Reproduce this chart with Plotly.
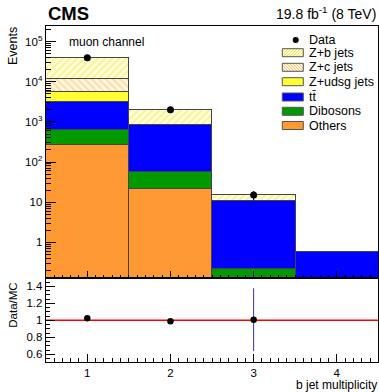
import plotly.graph_objects as go

W, H = 379, 392

# ---------------- data ----------------
bins = [1, 2, 3, 4]
others = [266, 20.9, 0, 0]
dibosons = [364, 36.6, 0.212, 0]
ttbar = [2563, 781, 10.5, 0.563]
z_udsg = [2287, 5, 0, 0]
z_c = [6080, 15, 0, 0]
z_b = [26990, 1180, 4.1, 0]

data_x = [1, 2, 3]
data_y = [39500, 2010, 15]
data_err = [199, 45, 3.9]

ratio_y = [1.024, 0.988, 1.007]
ratio_err = [0.012, 0.02, 0.37]

log_tickvals = [1, 10, 100, 1000, 10000, 100000]
log_ticktext = ["1", "10", "10<sup>2</sup>", "10<sup>3</sup>", "10<sup>4</sup>", "10<sup>5</sup>"]
ratio_tickvals = [0.6, 0.8, 1.0, 1.2, 1.4]
ratio_ticktext = ["0.6", "0.8", "1", "1.2", "1.4"]
x_tickvals = [1, 2, 3, 4]
x_ticktext = ["1", "2", "3", "4"]

FONT = "Liberation Sans, Arial, Helvetica, sans-serif"
OUTLINE = "#444444"

def px(x):
    return x / W

def py(y):
    return 1 - y / H

fig = go.Figure()

stack = [
    ("Others", others, "#ff9933", None),
    ("Dibosons", dibosons, "#009900", None),
    ("tt\u0304", ttbar, "#0000ff", None),
    ("Z+udsg jets", z_udsg, "#ffff33", None),
    ("Z+c jets", z_c, "#fff6dc", ("\\", "#f0c27a")),
    ("Z+b jets", z_b, "#ffffd2", ("/", "#f2e060")),
]
for name, vals, col, pat in stack:
    marker = dict(color=col, line=dict(color=OUTLINE, width=1))
    if pat:
        marker["pattern"] = dict(shape=pat[0], fgcolor=pat[1], size=5,
                                 solidity=0.35, fillmode="overlay")
    fig.add_trace(go.Bar(x=bins, y=vals, name=name, width=1, marker=marker,
                         xaxis="x", yaxis="y", showlegend=False))

fig.add_trace(go.Scatter(x=data_x, y=data_y, mode="markers", name="Data",
                         marker=dict(color="black", size=7),
                         error_y=dict(type="data", array=data_err, color="black",
                                      thickness=1, width=0),
                         xaxis="x", yaxis="y", showlegend=False))

fig.add_trace(go.Scatter(x=data_x, y=ratio_y, mode="markers", name="Data/MC",
                         marker=dict(color="black", size=6.5),
                         error_y=dict(type="data", array=ratio_err, color="#3333aa",
                                      thickness=1, width=0),
                         xaxis="x2", yaxis="y2", showlegend=False))

xdom = [45.7 / W, 378.4 / W]
main_dom = [py(278.3), py(26)]
ratio_dom = [py(361.7), py(278.3)]

minor_log = [m * 10 ** e for e in range(-1, 6) for m in range(2, 10)]

axis_common = dict(showline=True, linecolor="black", linewidth=1, mirror=True,
                   showgrid=False, zeroline=False, ticks="inside",
                   tickcolor="black", tickfont=dict(family=FONT, size=11.5, color="black"))

fig.update_layout(
    width=W, height=H,
    margin=dict(l=0, r=0, t=0, b=0),
    paper_bgcolor="white", plot_bgcolor="white",
    barmode="stack", bargap=0,
    showlegend=False,
    xaxis=dict(domain=xdom, anchor="y", range=[0.5, 4.5], tickvals=x_tickvals,
               showticklabels=False, ticklen=7,
               minor=dict(dtick=0.1, tick0=0.5, ticks="inside", ticklen=3.5, tickcolor="black"),
               **axis_common),
    yaxis=dict(domain=main_dom, anchor="x", type="log", range=[-0.897, 5.391],
               tickvals=log_tickvals, ticktext=log_ticktext, ticklen=10,
               minor=dict(tickmode="array", tickvals=minor_log, ticks="inside",
                          ticklen=5, tickcolor="black"),
               **axis_common),
    xaxis2=dict(domain=xdom, anchor="y2", range=[0.5, 4.5], tickvals=x_tickvals,
                ticktext=x_ticktext, ticklen=8,
                minor=dict(dtick=0.1, tick0=0.5, ticks="inside", ticklen=4, tickcolor="black"),
                **axis_common),
    yaxis2=dict(domain=ratio_dom, anchor="x2", range=[0.513, 1.494],
                tickvals=ratio_tickvals, ticktext=ratio_ticktext, ticklen=9,
                minor=dict(dtick=0.05, tick0=0.5, ticks="inside", ticklen=4.5, tickcolor="black"),
                **axis_common),
)

# reference line at ratio = 1
fig.add_shape(type="line", xref="x2", yref="y2", x0=0.5, x1=4.5, y0=1, y1=1,
              line=dict(color="red", width=1.5), layer="below")

ann = []
ann.append(dict(text="<b>CMS</b>", x=px(46), y=py(14), xanchor="left", yanchor="middle",
                font=dict(family=FONT, size=18.5, color="black")))
ann.append(dict(text="19.8 fb<sup>-1</sup> (8 TeV)", x=px(377.5), y=py(13), xanchor="right",
                yanchor="middle", font=dict(family=FONT, size=14, color="black")))
ann.append(dict(text="muon channel", x=px(66.5), y=py(41.5), xanchor="left", yanchor="middle",
                font=dict(family=FONT, size=12, color="black")))
ann.append(dict(text="Events", x=px(13), y=py(46), xanchor="center", yanchor="middle",
                textangle=-90, font=dict(family=FONT, size=12.5, color="black")))
ann.append(dict(text="Data/MC", x=px(12.7), y=py(305), xanchor="center", yanchor="middle",
                textangle=-90, font=dict(family=FONT, size=11.5, color="black")))
ann.append(dict(text="b jet multiplicity", x=px(377.5), y=py(384.8), xanchor="right",
                yanchor="middle", borderpad=0,
                font=dict(family=FONT, size=12, color="black")))

# ---------------- custom legend ----------------
LBX0, LBX1 = 282.3, 303.3
TX = 307
legend_rows = [
    ("Z+b jets", 52.7, "#ffffd2", ("/", "#f2e060")),
    ("Z+c jets", 67.3, "#fff6dc", ("\\", "#f0c27a")),
    ("Z+udsg jets", 81.7, "#ffff33", None),
    ("tt\u0304", 97.0, "#0000ff", None),
    ("Dibosons", 111.3, "#009900", None),
    ("Others", 125.5, "#ff9933", None),
]

def hatch_path(x0, x1, y0, y1, direction, step=3.0):
    segs = []
    w = x1 - x0
    h = y1 - y0
    c = -h
    while c < w:
        pts = []
        t0 = max(0, -c)
        t1 = min(h, w - c)
        if t1 > t0:
            for t in (t0, t1):
                u = c + t
                v = t if direction == "\\" else h - t
                pts.append((x0 + u, y0 + v))
            segs.append("M %.5f %.5f L %.5f %.5f" % (px(pts[0][0]), py(pts[0][1]),
                                                     px(pts[1][0]), py(pts[1][1])))
        c += step
    return " ".join(segs)

shapes = []
for label, yc, col, pat in legend_rows:
    y0, y1 = yc - 4, yc + 4
    shapes.append(dict(type="rect", xref="paper", yref="paper",
                       x0=px(LBX0), x1=px(LBX1), y0=py(y1), y1=py(y0),
                       fillcolor=col, line=dict(width=0)))
    if pat:
        shapes.append(dict(type="path", xref="paper", yref="paper",
                           path=hatch_path(LBX0, LBX1, y0, y1, pat[0]),
                           line=dict(color=pat[1], width=1)))
    shapes.append(dict(type="rect", xref="paper", yref="paper",
                       x0=px(LBX0), x1=px(LBX1), y0=py(y1), y1=py(y0),
                       fillcolor="rgba(0,0,0,0)", line=dict(color="#555555", width=1)))
    ann.append(dict(text=label, x=px(TX), y=py(yc), xanchor="left", yanchor="middle",
                    font=dict(family=FONT, size=12.5, color="black")))

# Data legend entry
shapes.append(dict(type="circle", xref="paper", yref="paper",
                   x0=px(295.7 - 3), x1=px(295.7 + 3), y0=py(40 + 3), y1=py(40 - 3),
                   fillcolor="black", line=dict(color="black", width=0)))
ann.append(dict(text="Data", x=px(TX), y=py(40), xanchor="left", yanchor="middle",
                font=dict(family=FONT, size=12.5, color="black")))

for a in ann:
    a.setdefault("xref", "paper")
    a.setdefault("yref", "paper")
    a["showarrow"] = False
    fig.add_annotation(**a)
for s in shapes:
    fig.add_shape(**s)

fig.write_html("out.html")
